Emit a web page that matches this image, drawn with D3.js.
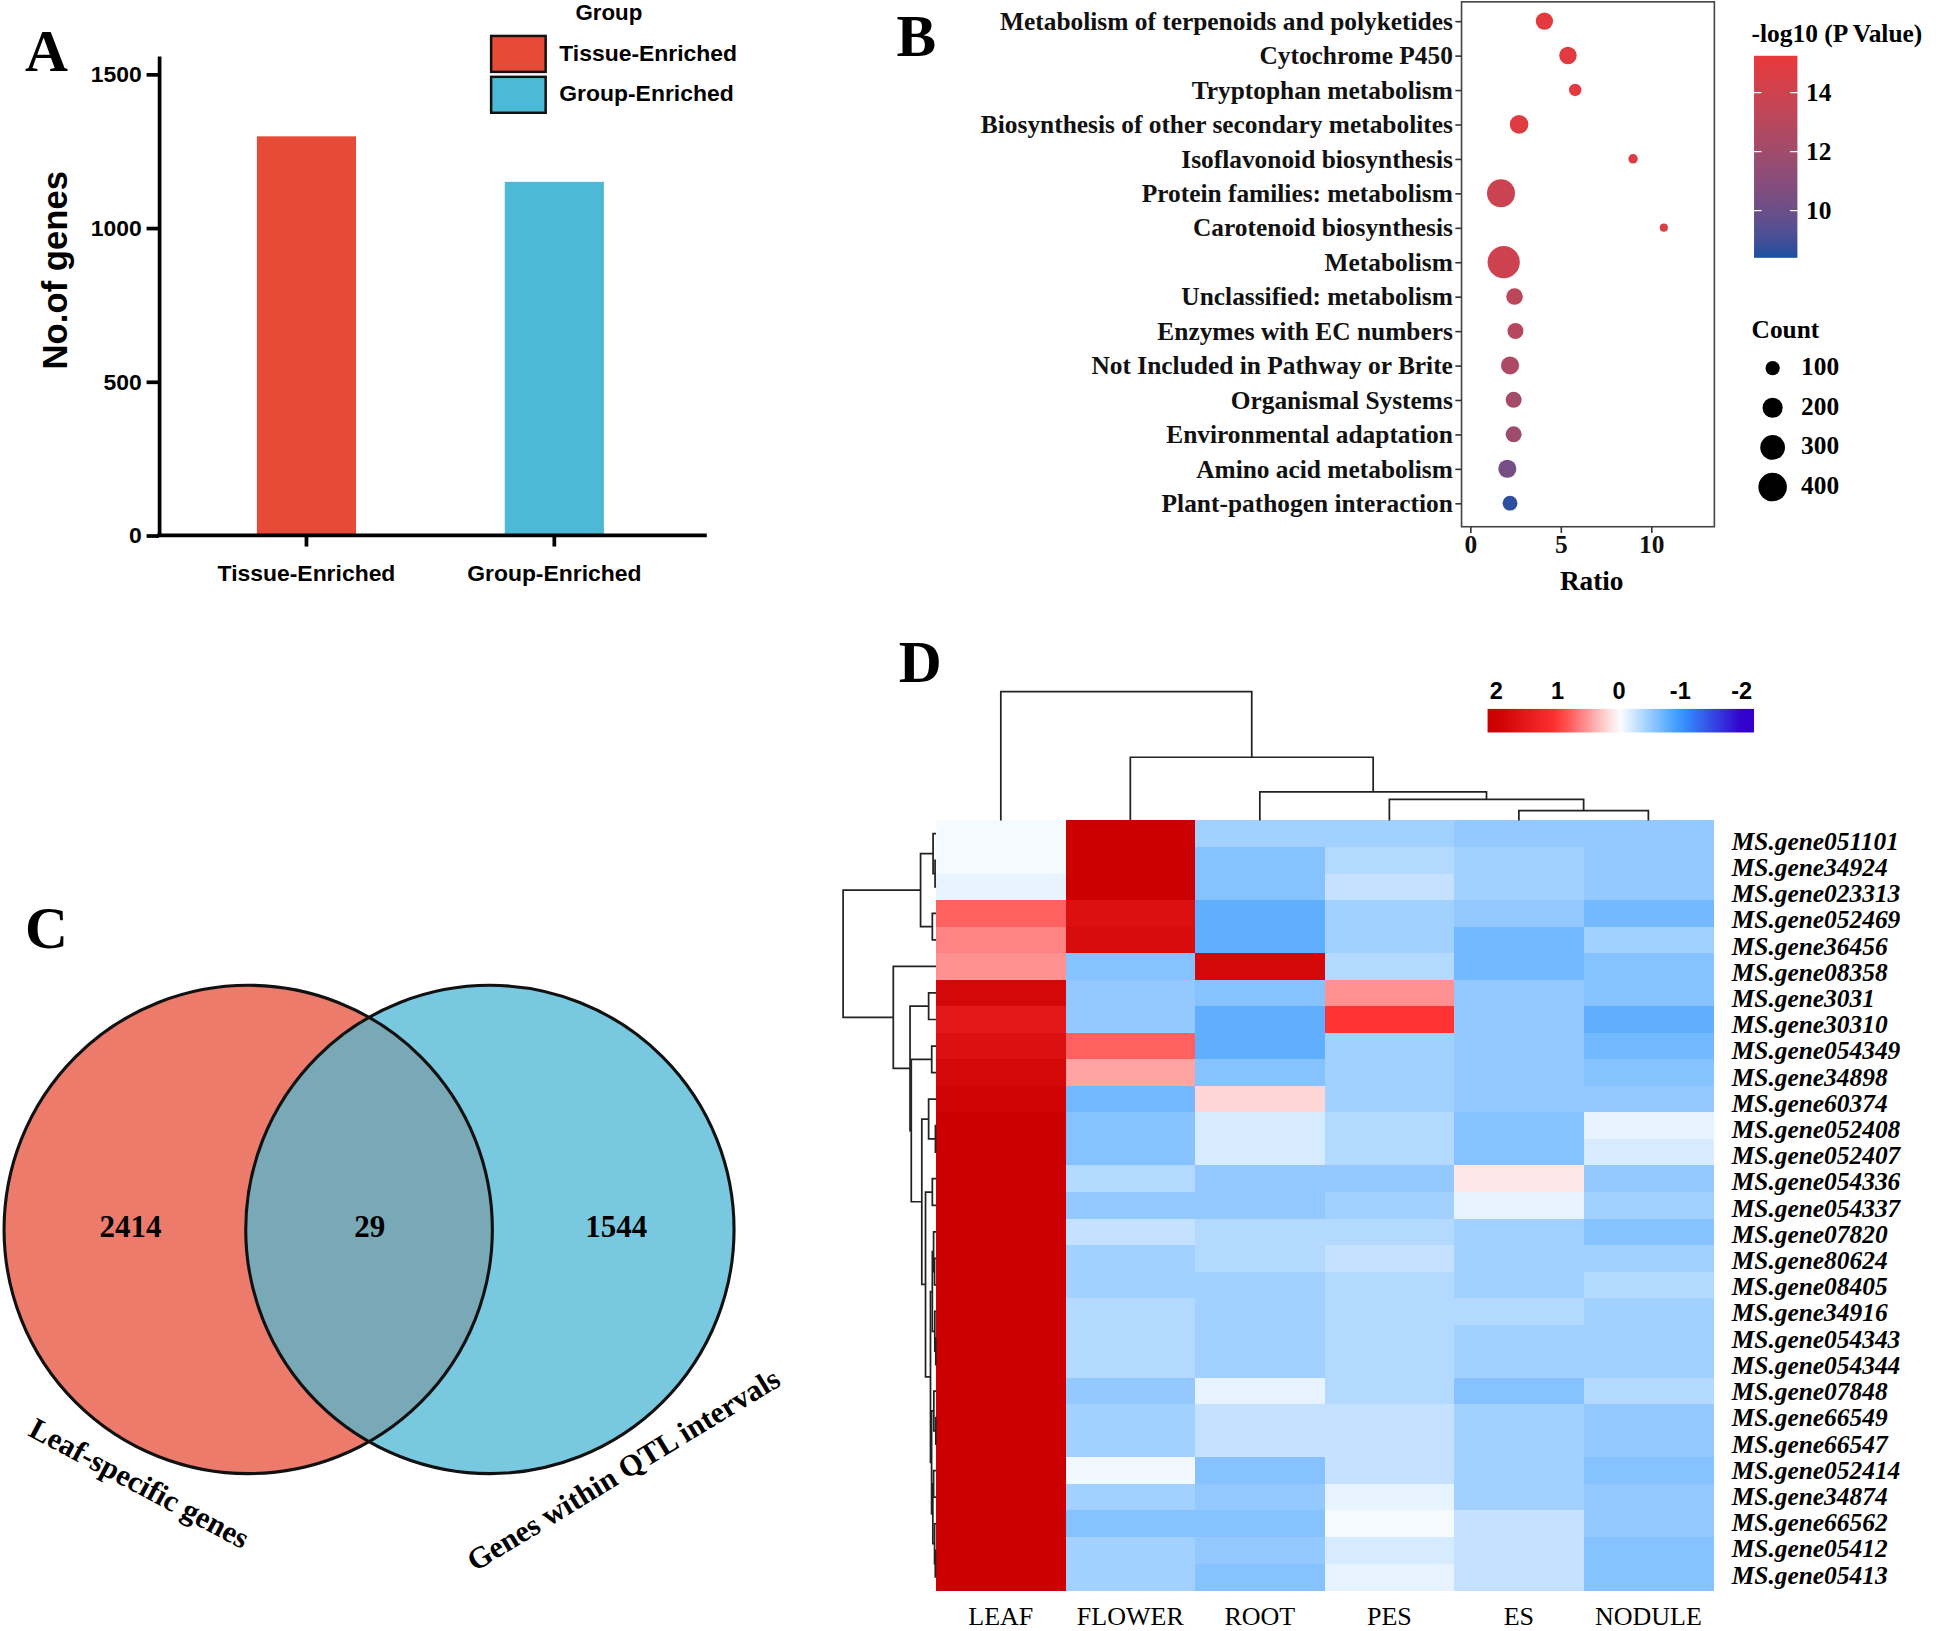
<!DOCTYPE html>
<html lang="en">
<head>
<meta charset="UTF-8">
<title>Tissue-enriched genes</title>
<script src="https://d3js.org/d3.v7.min.js"></script>
<style>
  body { margin: 0; background: #fff; }
  .serif { font-family: "Liberation Serif", "Times New Roman", serif; font-weight: bold; }
  .sans { font-family: "Liberation Sans", Arial, sans-serif; font-weight: bold; }
</style>
</head>
<body>
<svg id="fig" width="1944" height="1631" viewBox="0 0 1568 1316"></svg>
<script>
// ---------- panel A: bar chart
const groupNames = ["Tissue-Enriched", "Group-Enriched"];
const geneCounts = [1298, 1150];
const groupColors = ["#E54B36", "#4CBAD6"];
const countTicks = [0, 500, 1000, 1500];

// ---------- panel B: KEGG bubble plot
const pathways = [
  "Metabolism of terpenoids and polyketides", "Cytochrome P450", "Tryptophan metabolism",
  "Biosynthesis of other secondary metabolites", "Isoflavonoid biosynthesis",
  "Protein families: metabolism", "Carotenoid biosynthesis", "Metabolism",
  "Unclassified: metabolism", "Enzymes with EC numbers", "Not Included in Pathway or Brite",
  "Organismal Systems", "Environmental adaptation", "Amino acid metabolism",
  "Plant-pathogen interaction"
];
const ratios = [4.1, 5.4, 5.8, 2.7, 9.0, 1.7, 10.7, 1.85, 2.45, 2.5, 2.2, 2.4, 2.4, 2.05, 2.2];
const hitCounts = [148, 150, 76, 170, 44, 386, 33, 511, 136, 126, 161, 126, 126, 161, 109];
const logP = [15.0, 14.9, 14.9, 14.8, 14.6, 13.9, 14.5, 14.0, 13.2, 12.9, 12.6, 12.1, 11.9, 10.3, 8.6];
const ratioTicks = [0, 5, 10];
const logPTicks = [10, 12, 14];
const countBreaks = [100, 200, 300, 400];

// ---------- panel C: venn
const vennSets = ["Leaf-specific genes", "Genes within QTL intervals"];
const vennCounts = [2414, 29, 1544];   // left only, shared, right only

// ---------- panel D: heatmap
const tissues = ["LEAF", "FLOWER", "ROOT", "PES", "ES", "NODULE"];
const genes = [
  "MS.gene051101", "MS.gene34924", "MS.gene023313", "MS.gene052469", "MS.gene36456",
  "MS.gene08358", "MS.gene3031", "MS.gene30310", "MS.gene054349", "MS.gene34898",
  "MS.gene60374", "MS.gene052408", "MS.gene052407", "MS.gene054336", "MS.gene054337",
  "MS.gene07820", "MS.gene80624", "MS.gene08405", "MS.gene34916", "MS.gene054343",
  "MS.gene054344", "MS.gene07848", "MS.gene66549", "MS.gene66547", "MS.gene052414",
  "MS.gene34874", "MS.gene66562", "MS.gene05412", "MS.gene05413"
];
const expr = [
  [-0.05, 2.0, -0.45, -0.45, -0.53, -0.53],
  [-0.05, 2.0, -0.6, -0.37, -0.45, -0.53],
  [-0.12, 2.0, -0.6, -0.29, -0.45, -0.53],
  [0.78, 1.69, -0.78, -0.45, -0.53, -0.69],
  [0.61, 1.76, -0.78, -0.45, -0.69, -0.45],
  [0.54, -0.6, 1.84, -0.37, -0.69, -0.6],
  [1.84, -0.53, -0.6, 0.54, -0.53, -0.6],
  [1.53, -0.53, -0.78, 1.0, -0.53, -0.78],
  [1.69, 0.78, -0.78, -0.45, -0.53, -0.69],
  [1.84, 0.45, -0.6, -0.45, -0.53, -0.6],
  [1.92, -0.69, 0.2, -0.45, -0.53, -0.53],
  [2.0, -0.6, -0.2, -0.37, -0.6, -0.12],
  [2.0, -0.6, -0.2, -0.37, -0.6, -0.2],
  [2.0, -0.37, -0.53, -0.53, 0.12, -0.53],
  [2.0, -0.53, -0.53, -0.45, -0.12, -0.45],
  [2.0, -0.29, -0.37, -0.37, -0.45, -0.6],
  [2.0, -0.45, -0.37, -0.29, -0.45, -0.45],
  [2.0, -0.45, -0.45, -0.37, -0.45, -0.37],
  [2.0, -0.37, -0.45, -0.37, -0.37, -0.45],
  [2.0, -0.37, -0.45, -0.37, -0.45, -0.45],
  [2.0, -0.37, -0.45, -0.37, -0.45, -0.45],
  [2.0, -0.53, -0.12, -0.37, -0.6, -0.37],
  [2.0, -0.45, -0.29, -0.29, -0.45, -0.53],
  [2.0, -0.45, -0.29, -0.29, -0.45, -0.53],
  [2.0, -0.07, -0.6, -0.29, -0.45, -0.6],
  [2.0, -0.45, -0.53, -0.12, -0.45, -0.53],
  [2.0, -0.6, -0.6, -0.05, -0.29, -0.53],
  [2.0, -0.45, -0.53, -0.2, -0.29, -0.6],
  [2.0, -0.45, -0.6, -0.12, -0.29, -0.6]
];
const zTicks = [2, 1, 0, -1, -2];
// trees: [left, right, height], leaves are indices
const colTree = [0, [1, [2, [3, [4, 5, 0.8], 1.7], 2.3], 5.1], 10.4];
const rowTree = [
  [[0, [1, 2, 0.08], 0.24], [3, 4, 0.3], 1.25],
  [5,
    [[6, 7, 0.6],
      [[8, 9, 0.35],
        [[10, [11, 12, 0.05], 0.6],
          [[13, 14, 0.3],
            [[[15, [16, 17, 0.12], 0.2], [18, [19, 20, 0.02], 0.1], 0.3],
             [[21, [22, 23, 0.02], 0.18], [[24, 25, 0.2], [26, [27, 28, 0.06], 0.12], 0.26], 0.36],
             0.45],
            0.85],
          1.15],
        2.0],
      2.1],
    3.45],
  7.5
];

const svg = d3.select("#fig");

function letter(txt, x, y) {
  svg.append("text").attr("class", "serif").attr("x", x).attr("y", y)
    .attr("font-size", 48).text(txt);
}

// ================= A =================
const A = svg.append("g");
const yA = d3.scaleLinear().domain([0, 1560]).range([432, 45]);
const xA = d3.scaleBand().domain(groupNames).range([147, 547]).paddingInner(0.6).paddingOuter(0.3);

A.selectAll("rect.bar").data(groupNames).join("rect").attr("class", "bar")
  .attr("x", d => xA(d)).attr("width", xA.bandwidth())
  .attr("y", (d, i) => yA(geneCounts[i]))
  .attr("height", (d, i) => yA(0) - yA(geneCounts[i]))
  .attr("fill", (d, i) => groupColors[i]);

const axA = A.append("g").attr("transform", "translate(128,0)")
  .call(d3.axisLeft(yA).tickValues(countTicks).tickFormat(d3.format("d"))
    .tickSize(10).tickSizeOuter(0).tickPadding(4));
const axAx = A.append("g").attr("transform", "translate(0,432)")
  .call(d3.axisBottom(xA).tickSize(9).tickPadding(18));
axAx.select(".domain").remove();
A.append("line").attr("x1", 126.5).attr("x2", 570).attr("y1", 432).attr("y2", 432)
  .attr("stroke", "#000").attr("stroke-width", 3);
[axA, axAx].forEach(g => {
  g.selectAll("path,line").attr("stroke", "#000").attr("stroke-width", 3);
  g.selectAll("text").attr("class", "sans").attr("font-size", 18.5).attr("fill", "#000");
});
axAx.selectAll("text").attr("dy", "0.55em");

A.append("text").attr("class", "sans").attr("font-size", 28)
  .attr("transform", "translate(54,218) rotate(-90)").attr("text-anchor", "middle")
  .text("No.of genes");

// legend
A.append("text").attr("class", "sans").attr("font-size", 18).attr("x", 491).attr("y", 16)
  .attr("text-anchor", "middle").text("Group");
const legA = A.selectAll("g.leg").data(groupNames).join("g").attr("class", "leg")
  .attr("transform", (d, i) => `translate(396,${29 + i * 33})`);
legA.append("rect").attr("width", 44).attr("height", 29)
  .attr("fill", (d, i) => groupColors[i]).attr("stroke", "#111").attr("stroke-width", 2);
legA.append("text").attr("class", "sans").attr("font-size", 18.5).attr("x", 55).attr("y", 15)
  .attr("dominant-baseline", "middle").text(d => d);

letter("A", 20, 57);

// ================= B =================
const B = svg.append("g");
const xB = d3.scaleLinear().domain([0, 10]).range([1186, 1332]);
const yB = d3.scalePoint().domain(pathways).range([17, 406]);
const pCol = d3.scaleLinear().domain([8.4, 15.25]).range(["#1C4FA0", "#E8383B"])
  .interpolate(d3.interpolateLab);
const rB = d3.scaleSqrt().domain([0, 400]).range([0, 11.5]);

B.append("rect").attr("x", 1179).attr("y", 1.5).attr("width", 204).attr("height", 423.5)
  .attr("fill", "none").attr("stroke", "#444").attr("stroke-width", 1.3);

const axBy = B.append("g").attr("transform", "translate(1179,0)")
  .call(d3.axisLeft(yB).tickSize(5).tickPadding(2));
const axBx = B.append("g").attr("transform", "translate(0,425)")
  .call(d3.axisBottom(xB).tickValues(ratioTicks).tickSize(5).tickPadding(2));
[axBy, axBx].forEach(g => {
  g.select(".domain").remove();
  g.selectAll("line").attr("stroke", "#333").attr("stroke-width", 1.3);
  g.selectAll("text").attr("class", "serif").attr("font-size", 20.5).attr("fill", "#111");
});

B.selectAll("circle.dot").data(pathways).join("circle").attr("class", "dot")
  .attr("cx", (d, i) => xB(ratios[i])).attr("cy", d => yB(d))
  .attr("r", (d, i) => rB(hitCounts[i]))
  .attr("fill", (d, i) => pCol(logP[i]));

B.append("text").attr("class", "serif").attr("font-size", 22).attr("x", 1284).attr("y", 476)
  .attr("text-anchor", "middle").text("Ratio");

// colour legend
const pLeg = d3.scaleLinear().domain([8.4, 15.25]).range([208, 45]);
const gradB = svg.append("defs").append("linearGradient").attr("id", "gradB")
  .attr("x1", 0).attr("y1", 1).attr("x2", 0).attr("y2", 0);
d3.range(0, 1.0001, 0.1).forEach(t => {
  gradB.append("stop").attr("offset", t).attr("stop-color", pCol(8.4 + t * (15.25 - 8.4)));
});
B.append("text").attr("class", "serif").attr("font-size", 20.5).attr("x", 1413).attr("y", 34)
  .text("-log10 (P Value)");
B.append("rect").attr("x", 1415).attr("y", 45).attr("width", 35).attr("height", 163)
  .attr("fill", "url(#gradB)");
logPTicks.forEach(v => {
  B.append("line").attr("x1", 1415).attr("x2", 1421).attr("y1", pLeg(v)).attr("y2", pLeg(v))
    .attr("stroke", "#fff").attr("stroke-width", 1);
  B.append("line").attr("x1", 1444).attr("x2", 1450).attr("y1", pLeg(v)).attr("y2", pLeg(v))
    .attr("stroke", "#fff").attr("stroke-width", 1);
  B.append("text").attr("class", "serif").attr("font-size", 20.5).attr("x", 1457).attr("y", pLeg(v) + 2)
    .attr("dominant-baseline", "middle").text(v);
});

// size legend
B.append("text").attr("class", "serif").attr("font-size", 20.5).attr("x", 1413).attr("y", 273)
  .text("Count");
countBreaks.forEach((c, i) => {
  const cy = 297 + i * 32;
  B.append("circle").attr("cx", 1430).attr("cy", cy).attr("r", rB(c)).attr("fill", "#000");
  B.append("text").attr("class", "serif").attr("font-size", 20.5).attr("x", 1453).attr("y", cy + 1)
    .attr("dominant-baseline", "middle").text(c);
});

letter("B", 723, 45);

// ================= C =================
const C = svg.append("g");
const vennR = 197;
const cL = [200, 992], cR = [395, 992];
const defs = svg.select("defs");
defs.append("clipPath").attr("id", "clipL").append("circle")
  .attr("cx", cL[0]).attr("cy", cL[1]).attr("r", vennR);
C.append("circle").attr("cx", cL[0]).attr("cy", cL[1]).attr("r", vennR).attr("fill", "#EC7B6B");
C.append("circle").attr("cx", cR[0]).attr("cy", cR[1]).attr("r", vennR).attr("fill", "#78C9DF");
C.append("circle").attr("cx", cR[0]).attr("cy", cR[1]).attr("r", vennR).attr("fill", "#79A9B6")
  .attr("clip-path", "url(#clipL)");
[cL, cR].forEach(c => {
  C.append("circle").attr("cx", c[0]).attr("cy", c[1]).attr("r", vennR)
    .attr("fill", "none").attr("stroke", "#111").attr("stroke-width", 2.5);
});
const vennX = [105, 298, 497];
vennCounts.forEach((v, i) => {
  C.append("text").attr("class", "serif").attr("font-size", 25).attr("x", vennX[i]).attr("y", 992)
    .attr("text-anchor", "middle").attr("dominant-baseline", "middle").text(v);
});
C.append("text").attr("class", "serif").attr("font-size", 24.5).attr("text-anchor", "middle")
  .attr("dominant-baseline", "middle")
  .attr("transform", "translate(111,1199) rotate(28)").text(vennSets[0]);
C.append("text").attr("class", "serif").attr("font-size", 24.5).attr("text-anchor", "middle")
  .attr("dominant-baseline", "middle")
  .attr("transform", "translate(504,1188) rotate(-31.4)").text(vennSets[1]);

letter("C", 20, 765);

// ================= D =================
const D = svg.append("g");
const xD = d3.scaleBand().domain(tissues).range([755, 1382]);
const yD = d3.scaleBand().domain(genes).range([662, 1283]);
const heatColor = d3.scaleLinear().domain([-2, -1, 0, 1, 2])
  .range(["#3300CC", "#3399FF", "#FFFFFF", "#FF3333", "#CC0000"]).clamp(true);

genes.forEach((g, i) => {
  D.selectAll(null).data(tissues).join("rect")
    .attr("x", t => xD(t)).attr("y", yD(g))
    .attr("width", xD.bandwidth() + 0.4).attr("height", yD.bandwidth() + 0.4)
    .attr("fill", (t, j) => heatColor(expr[i][j]))
    .attr("shape-rendering", "crispEdges");
});

// row labels sit slightly lower than the rows at the top, as in the source figure
const yLab = d3.scalePoint().domain(genes).range([681, 1273]);
D.selectAll("text.gene").data(genes).join("text").attr("class", "serif gene")
  .attr("font-size", 20.5).attr("font-style", "italic")
  .attr("x", 1397).attr("y", d => yLab(d))
  .attr("dominant-baseline", "middle").text(d => d);
D.selectAll("text.tis").data(tissues).join("text").attr("class", "tis")
  .attr("font-family", "'Liberation Serif', 'Times New Roman', serif").attr("font-size", 21)
  .attr("x", d => xD(d) + xD.bandwidth() / 2).attr("y", 1306)
  .attr("text-anchor", "middle").attr("dominant-baseline", "middle").text(d => d);

// dendrograms
function drawTree(g, node, leafPos, hScale, horizontal) {
  if (typeof node === "number") return { p: leafPos(node), h: 0 };
  const a = drawTree(g, node[0], leafPos, hScale, horizontal);
  const b = drawTree(g, node[1], leafPos, hScale, horizontal);
  const h = node[2];
  const hp = hScale(h);
  let d;
  if (horizontal) {
    // columns: branches drop down to the heatmap
    d = `M${a.p},${hScale(a.h)}V${hp}H${b.p}V${hScale(b.h)}`;
  } else {
    d = `M${hScale(a.h)},${a.p}H${hp}V${b.p}H${hScale(b.h)}`;
  }
  g.append("path").attr("d", d).attr("fill", "none").attr("stroke", "#222")
    .attr("stroke-width", 1.4);
  return { p: (a.p + b.p) / 2, h };
}
const colH = d3.scaleLinear().domain([0, 10.4]).range([662, 558]);
drawTree(D.append("g"), colTree, i => xD(tissues[i]) + xD.bandwidth() / 2, colH, true);
const rowH = d3.scaleLinear().domain([0, 7.5]).range([755, 680]);
drawTree(D.append("g"), rowTree, i => yD(genes[i]) + yD.bandwidth() / 2, rowH, false);

// colour key
const zX = d3.scaleLinear().domain([2, -2]).range([1207, 1405]);
const gradD = defs.append("linearGradient").attr("id", "gradD")
  .attr("x1", 0).attr("y1", 0).attr("x2", 1).attr("y2", 0);
d3.range(0, 1.0001, 0.05).forEach(t => {
  const v = zX.invert(1200 + t * 215);
  gradD.append("stop").attr("offset", t).attr("stop-color", heatColor(v));
});
D.append("rect").attr("x", 1200).attr("y", 572).attr("width", 215).attr("height", 19)
  .attr("fill", "url(#gradD)");
zTicks.forEach(v => {
  D.append("text").attr("class", "sans").attr("font-size", 19).attr("x", zX(v)).attr("y", 559)
    .attr("text-anchor", "middle").attr("dominant-baseline", "middle").text(v);
});

letter("D", 725, 550);
</script>
</body>
</html>
